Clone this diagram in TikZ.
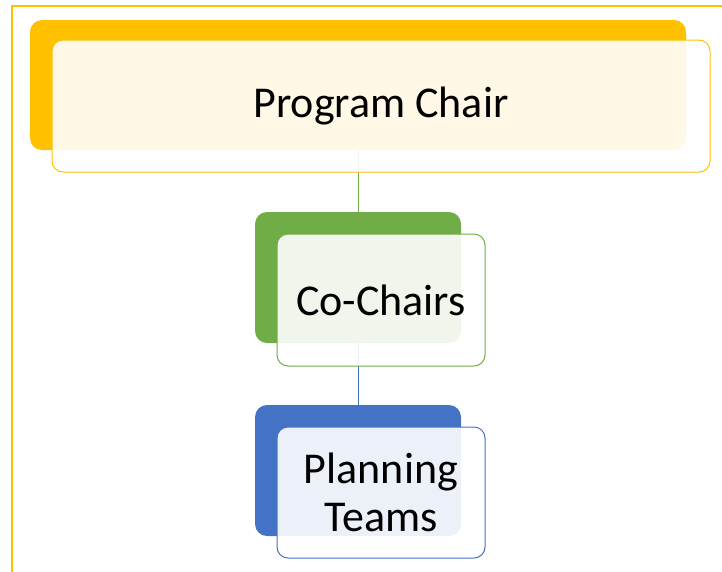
\documentclass[tikz,border=0pt]{standalone}
\usepackage{fontspec}
\setmainfont{Carlito}
\definecolor{chairgold}{HTML}{FFC000}
\definecolor{cogreen}{HTML}{70AD47}
\definecolor{teamblue}{HTML}{4472C4}
\newcommand{\bigtxt}{\fontsize{44}{48}\selectfont}
\tikzset{
  backbox/.style={fill=#1, draw=none, rounded corners=12pt, inner sep=0pt},
  frontbox/.style={draw=#1, line width=1pt, fill=white, fill opacity=0.9,
    text opacity=1, rounded corners=11pt, inner sep=0pt, align=center,
    font=\bigtxt},
  link/.style={draw=#1, line width=1pt}
}
\begin{document}
\begin{tikzpicture}[x=1pt,y=-1pt]
   \useasboundingbox (0,0) rectangle (722,571);
   % outer frame
   \draw[chairgold, line width=1.5pt] (12,572) -- (12,6) -- (723,6);
   % back plates
   \node[backbox=chairgold, minimum width=656pt, minimum height=130pt] (chairB) at (358,85) {};
   \node[backbox=cogreen, minimum width=206pt, minimum height=131pt] (coB) at (358,277.5) {};
   \node[backbox=teamblue, minimum width=206pt, minimum height=131pt] (teamB) at (358,470.5) {};
   % connectors
   \draw[link=cogreen] (chairB.south) -- (coB.north);
   \draw[link=teamblue] (coB.south) -- (teamB.north);
   % front plates
   \node[frontbox=chairgold, minimum width=658pt, minimum height=132pt] (chair) at (381,106) {Program Chair};
   \node[frontbox=cogreen, minimum width=208pt, minimum height=132pt] (co) at (381,300) {Co-Chairs};
   \node[frontbox=teamblue, minimum width=208pt, minimum height=131pt] (team) at (381,492.5) {Planning\\Teams};
\end{tikzpicture}
\end{document}
